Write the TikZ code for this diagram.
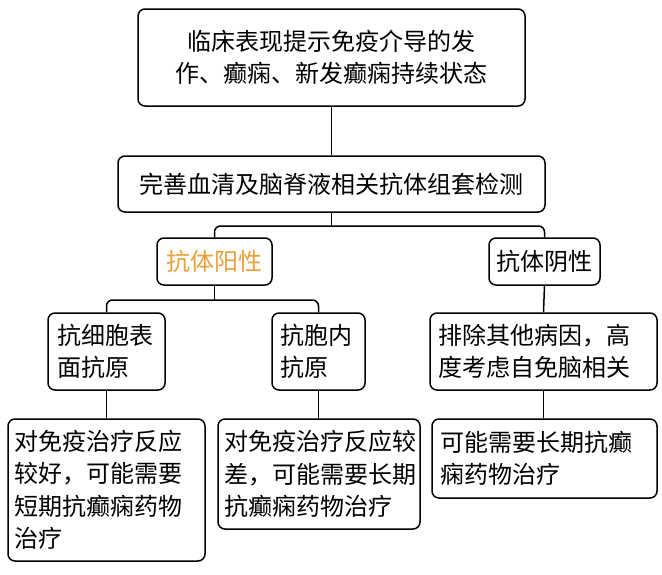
\documentclass[tikz,border=0pt]{standalone}
\usepackage{fontspec}
\newfontfamily\cjk{Noto Sans CJK SC}
\definecolor{posorange}{HTML}{E8A03A}
\begin{document}
\begin{tikzpicture}[x=1pt,y=-1pt,
  box/.style={draw=black, line width=1.5pt, rounded corners=7pt, inner sep=0pt,
    font=\cjk\fontsize{24}{32.5}\selectfont},
  conn/.style={draw=black, line width=1.5pt, rounded corners=6pt}]
\useasboundingbox (0,0) rectangle (662,574);
\fill[white] (0,0) rectangle (662,574);
\node[box, minimum width=387pt, minimum height=97pt, align=center] (top) at (331.5,57.5)
  {临床表现提示免疫介导的发\\作、癫痫、新发癫痫持续状态};
\node[box, minimum width=427pt, minimum height=56pt] (mid) at (331.5,184)
  {完善血清及脑脊液相关抗体组套检测};
\node[box, minimum width=115pt, minimum height=47pt, text=posorange] (pos) at (214.5,261.5) {抗体阳性};
\node[box, minimum width=111pt, minimum height=47pt] (neg) at (544.5,261.5) {抗体阴性};
\node[box, minimum width=117pt, minimum height=77pt, text width=99pt, align=left] (surf) at (106.5,351.5)
  {抗细胞表\\面抗原};
\node[box, minimum width=93pt, minimum height=77pt, text width=77pt, align=left] (intra) at (318.5,351.5)
  {抗胞内\\抗原};
\node[box, minimum width=227pt, minimum height=77pt, text width=211pt, align=left] (excl) at (543.5,351.5)
  {排除其他病因，高\\度考虑自免脑相关};
\node[box, minimum width=197pt, minimum height=142pt, text width=183pt, align=left] (L) at (106.5,490)
  {对免疫治疗反应\\较好，可能需要\\短期抗癫痫药物\\治疗};
\node[box, minimum width=202pt, minimum height=110pt, text width=190pt, align=left] (M) at (319,474)
  {对免疫治疗反应较\\差，可能需要长期\\抗癫痫药物治疗};
\node[box, minimum width=225pt, minimum height=79pt, text width=209pt, align=left] (R) at (544.5,458.5)
  {可能需要长期抗癫\\痫药物治疗};
\coordinate (j1) at (331.5,226);
\coordinate (j2) at (214.5,300);
\draw[conn] (top.south) -- (mid.north);
\draw[conn] (mid.south) -- (j1);
\draw[conn] (pos.north) |- (j1) -| (neg.north);
\draw[conn] (pos.south) -- (j2);
\draw[conn] (surf.north) |- (j2) -| (intra.north);
\draw[conn] (neg.south) -- (excl.north);
\draw[conn] (surf.south) -- (surf.south |- L.north);
\draw[conn] (intra.south) -- (intra.south |- M.north);
\draw[conn] (excl.south) -- (excl.south |- R.north);
\end{tikzpicture}
\end{document}
